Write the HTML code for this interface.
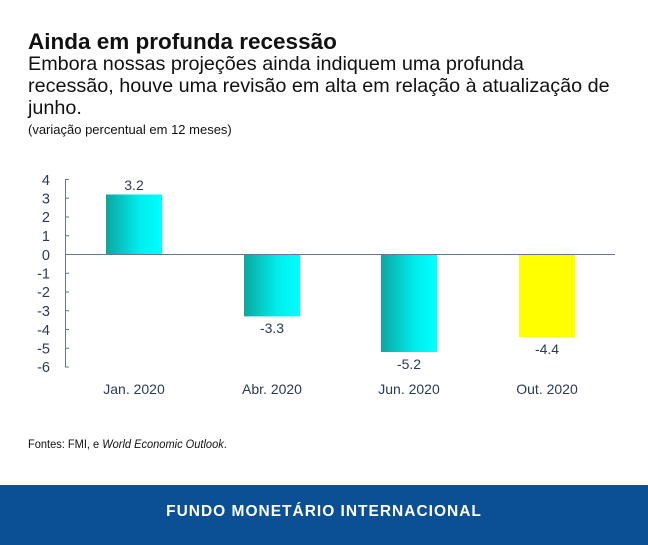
<!DOCTYPE html>
<html><head><meta charset="utf-8"><style>
body{margin:0;width:648px;height:545px;background:#fff;font-family:"Liberation Sans",sans-serif;position:relative;overflow:hidden}
.t{position:absolute;left:28px;color:#111;white-space:nowrap}
</style></head><body>
<div class="t" style="top:29px;font-size:22.5px;font-weight:bold">Ainda em profunda recessão</div>
<div class="t" style="top:53px;font-size:19.8px;line-height:22px">Embora nossas projeções ainda indiquem uma profunda<br>recessão, houve uma revisão em alta em relação à atualização de<br>junho.</div>
<div class="t" style="top:122px;font-size:13px">(variação percentual em 12 meses)</div>
<svg width="648" height="545" style="position:absolute;left:0;top:0">
<defs><linearGradient id="g" x1="0" x2="1"><stop offset="0" stop-color="#0aa7a0"/><stop offset="0.6" stop-color="#00eded"/><stop offset="1" stop-color="#00ffff"/></linearGradient></defs>
<g stroke="#6a7690" stroke-width="1">
<line x1="65.5" y1="179.5" x2="65.5" y2="367"/>
<line x1="65" y1="179.5" x2="69" y2="179.5"/><line x1="65" y1="198.25" x2="69" y2="198.25"/><line x1="65" y1="217" x2="69" y2="217"/><line x1="65" y1="235.75" x2="69" y2="235.75"/><line x1="65" y1="273.25" x2="69" y2="273.25"/><line x1="65" y1="292" x2="69" y2="292"/><line x1="65" y1="310.75" x2="69" y2="310.75"/><line x1="65" y1="329.5" x2="69" y2="329.5"/><line x1="65" y1="348.25" x2="69" y2="348.25"/><line x1="65" y1="367" x2="69" y2="367"/>
</g>
<rect x="106" y="194.5" width="56" height="60" fill="url(#g)"/>
<rect x="244" y="254.5" width="56" height="61.9" fill="url(#g)"/>
<rect x="381" y="254.5" width="56" height="97.5" fill="url(#g)"/>
<rect x="519" y="254.5" width="56" height="82.5" fill="#ffff00"/>
<line x1="65" y1="254.5" x2="615" y2="254.5" stroke="#6a7690" stroke-width="1"/>
<g font-size="14.5" fill="#2b3a55" text-anchor="end">
<text x="50" y="185">4</text><text x="50" y="203.5">3</text><text x="50" y="222">2</text><text x="50" y="241">1</text><text x="50" y="260">0</text><text x="50" y="278.5">-1</text><text x="50" y="297">-2</text><text x="50" y="316">-3</text><text x="50" y="335">-4</text><text x="50" y="353.5">-5</text><text x="50" y="372">-6</text>
</g>
<g font-size="14" fill="#2b3a55" text-anchor="middle">
<text x="134" y="190">3.2</text><text x="272" y="333">-3.3</text><text x="409" y="369">-5.2</text><text x="547" y="354">-4.4</text>
<text x="134" y="394">Jan. 2020</text><text x="272" y="394">Abr. 2020</text><text x="409" y="394">Jun. 2020</text><text x="547" y="394">Out. 2020</text>
</g>
</svg>
<div class="t" style="top:437px;font-size:12px;transform:scaleX(0.92);transform-origin:0 0">Fontes: FMI, e <i>World Economic Outlook</i>.</div>
<div style="position:absolute;left:0;top:485px;width:648px;height:60px;background:#0b4f94;color:#fff;font-weight:bold;font-size:15.5px;letter-spacing:1.0px;text-align:center;line-height:54px">FUNDO MONETÁRIO INTERNACIONAL</div>
</body></html>
